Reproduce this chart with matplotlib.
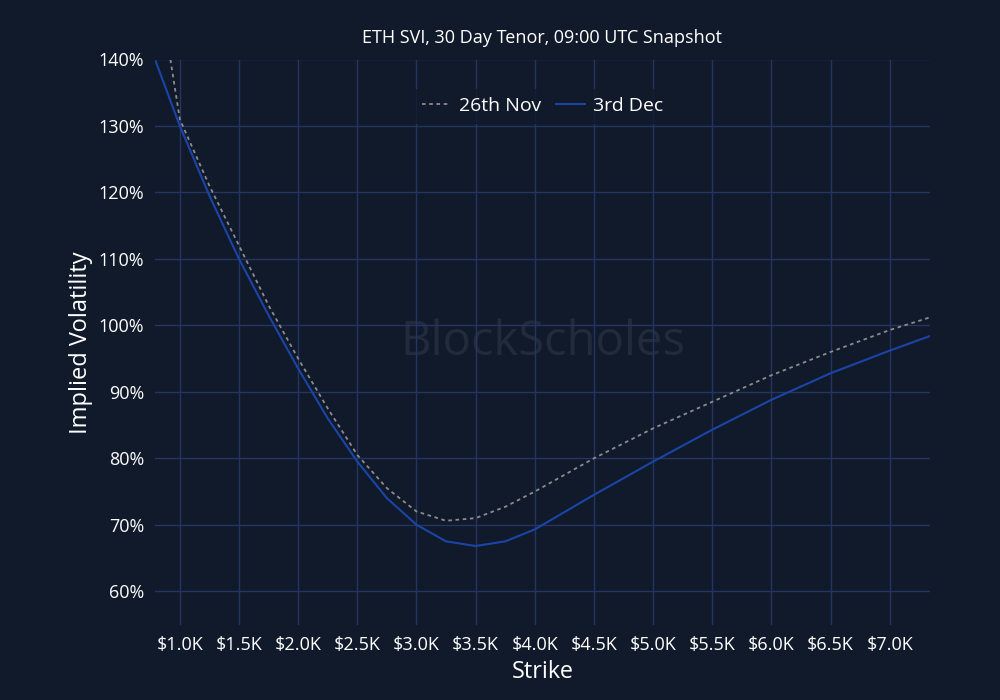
import matplotlib
matplotlib.use('agg')
import matplotlib.pyplot as plt
from matplotlib.ticker import FuncFormatter, MultipleLocator

# strikes in $K
nov_strike = [0.92, 1.0, 1.25, 1.5, 1.75, 2.0, 2.25, 2.5, 2.75, 3.0, 3.25, 3.5, 3.75, 4.0, 4.5, 5.0, 5.5, 6.0, 6.5, 7.0, 7.34]
nov_vol = [140, 131, 121, 112, 103, 95, 87.5, 80.5, 75.5, 72, 70.6, 71, 72.7, 75, 80, 84.5, 88.5, 92.5, 96, 99.3, 101.2]
dec_strike = [0.79, 1.0, 1.25, 1.5, 1.75, 2.0, 2.25, 2.5, 2.75, 3.0, 3.25, 3.5, 3.75, 4.0, 4.5, 5.0, 5.5, 6.0, 6.5, 7.0, 7.34]
dec_vol = [140, 130, 119.5, 110, 101.5, 93.5, 86, 79.5, 74, 70, 67.5, 66.8, 67.5, 69.3, 74.5, 79.5, 84.3, 88.8, 92.8, 96.2, 98.4]

bg = '#111a2b'
plt.rcParams['font.family'] = 'Open Sans'
fig, ax = plt.subplots(figsize=(10, 7), dpi=100)
fig.patch.set_facecolor(bg)
ax.set_facecolor(bg)
fig.subplots_adjust(left=0.155, right=0.93, top=0.915, bottom=0.107)

ax.plot(nov_strike, nov_vol, ls=(0, (2, 2)), color='#8c8c8c', lw=1.3, label='26th Nov')
ax.plot(dec_strike, dec_vol, color='#1a44a6', lw=1.5, label='3rd Dec')

ax.set_xlim(0.79, 7.34)
ax.set_ylim(54.9, 140)
ax.xaxis.set_major_locator(MultipleLocator(0.5))
ax.yaxis.set_major_locator(MultipleLocator(10))
ax.xaxis.set_major_formatter(FuncFormatter(lambda v, p: f'${v:.1f}K'))
ax.yaxis.set_major_formatter(FuncFormatter(lambda v, p: f'{v:.0f}%'))
ax.grid(True, color='#243463', lw=1)
ax.set_axisbelow(True)
for s in ax.spines.values():
    s.set_visible(False)
ax.tick_params(colors='white', labelsize=13, length=0, pad=8)
ax.set_xlabel('Strike', color='white', fontsize=17)
ax.set_ylabel('Implied Volatility', color='white', fontsize=17)
ax.set_title('ETH SVI, 30 Day Tenor, 09:00 UTC Snapshot', color='white', fontsize=13, pad=12)
ax.text(0.5, 0.5, 'BlockScholes', transform=ax.transAxes, ha='center', va='center',
        fontsize=34, color='#222b3c', zorder=0)
leg = ax.legend(loc='upper center', bbox_to_anchor=(0.5, 0.965), ncol=2, frameon=True,
                fontsize=14, handlelength=1.5, columnspacing=0.8, handletextpad=0.4)
leg.get_frame().set_facecolor(bg)
leg.get_frame().set_edgecolor(bg)
for t in leg.get_texts():
    t.set_color('white')

fig.savefig('out.png', facecolor=bg)
